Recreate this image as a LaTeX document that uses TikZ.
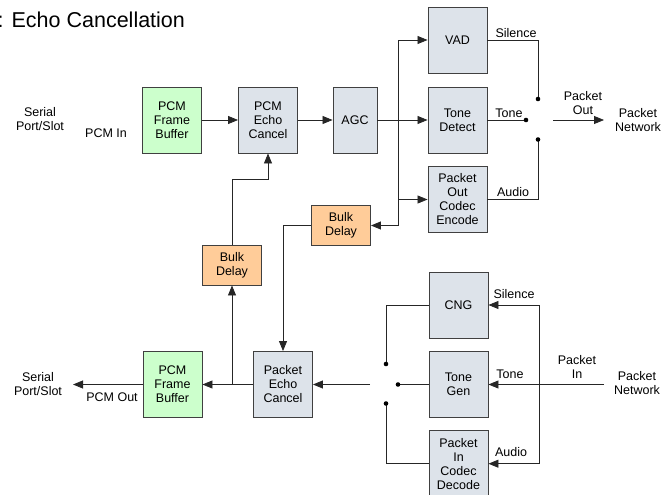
\documentclass[tikz,border=0pt]{standalone}
\usepackage{fontspec}
\setmainfont{Liberation Sans}
\usetikzlibrary{arrows.meta}

\definecolor{bufgreen}{HTML}{CCFFCC}
\definecolor{procgray}{HTML}{DDE3EA}
\definecolor{delayorange}{HTML}{FFCC99}
\definecolor{edgegray}{HTML}{404040}
\newcommand{\blklabel}{\fontsize{12.5}{14}\selectfont}

\tikzset{
  blk/.style={draw=edgegray, line width=0.9pt, minimum width=59pt, minimum height=66pt,
    align=center, inner sep=1pt, font=\blklabel},
  bufblk/.style={blk, fill=bufgreen},
  procblk/.style={blk, fill=procgray},
  delayblk/.style={blk, fill=delayorange, minimum height=40pt},
  txt/.style={align=center, inner sep=0pt, font=\blklabel},
  wire/.style={line width=0.8pt, black!85},
  arr/.style={wire, -{Triangle[length=10pt,width=8pt]}},
  swdot/.style={black, radius=2.3pt}
}

\begin{document}
\begin{tikzpicture}[x=1pt, y=-1pt]
\useasboundingbox (0,0) rectangle (669,495);

\node[anchor=base west, inner sep=0pt, font=\fontsize{21.5}{24}\selectfont] (title) at (-2.5,28) {: Echo Cancellation};

% transmit path
\node[bufblk] (pfbIn) at (172,120) {PCM\\Frame\\Buffer};
\node[procblk] (pcmEC) at (268,120) {PCM\\Echo\\Cancel};
\node[procblk, minimum width=44pt] (agc) at (355,120) {AGC};
\node[procblk] (vad) at (457.5,40) {VAD};
\node[procblk] (toneDet) at (457.5,120) {Tone\\Detect};
\node[procblk] (encode) at (457.5,199.5) {Packet\\Out\\Codec\\Encode};
\node[delayblk] (bulkR) at (341,225.5) {Bulk\\Delay};

% receive path
\node[delayblk] (bulkL) at (232,265) {Bulk\\Delay};
\node[bufblk] (pfbOut) at (172.5,384.5) {PCM\\Frame\\Buffer};
\node[procblk] (pktEC) at (283,384.5) {Packet\\Echo\\Cancel};
\node[procblk] (cng) at (458.5,305) {CNG};
\node[procblk] (toneGen) at (458.5,384.5) {Tone\\Gen};
\node[procblk] (decode) at (458.5,463.7) {Packet\\In\\Codec\\Decode};

% labels
\node[txt] (serIn) at (40,119) {Serial\\Port/Slot};
\node[txt] (pcmInLbl) at (106,133) {PCM In};
\node[txt] (serOut) at (38,384) {Serial\\Port/Slot};
\node[txt] (pcmOutLbl) at (112,397) {PCM Out};
\node[txt] (pktOutLbl) at (583,103) {Packet\\Out};
\node[txt] (netOut) at (638,120) {Packet\\Network};
\node[txt] (pktInLbl) at (577,367) {Packet\\In};
\node[txt] (netIn) at (637,383) {Packet\\Network};
\node[txt] (silT) at (516,33) {Silence};
\node[txt] (toneT) at (509,113) {Tone};
\node[txt] (audT) at (513,192) {Audio};
\node[txt] (silB) at (514,294) {Silence};
\node[txt] (toneB) at (510,374) {Tone};
\node[txt] (audB) at (511,452) {Audio};

% switch points and bends
\coordinate (swS) at (538,99);
\coordinate (swT) at (526,120);
\coordinate (swA) at (538,139.5);
\coordinate (outA) at (553,120);
\coordinate (outB) at (604,120);
\coordinate (busT) at (398,120);
\coordinate (ecTurn) at (232,179);
\coordinate (tap) at (232,384.5);
\coordinate (serEnd) at (73,384.5);
\coordinate (sw2S) at (386,364);
\coordinate (sw2T) at (398,384.5);
\coordinate (sw2A) at (386,403.5);
\coordinate (sw2Out) at (370,384.5);
\coordinate (inA) at (604,384.5);
\coordinate (busR) at (539,384.5);

\draw[arr] (pfbIn) -- (pcmEC);
\draw[arr] (pcmEC) -- (agc);
\draw[arr] (agc) -- (toneDet);
\draw[arr] (busT) |- (vad.west);
\draw[arr] (busT) |- (encode.west);
\draw[arr] (busT) |- (bulkR.east);
\draw[arr] (bulkR.west) -| (pktEC.north);
\draw[arr] (bulkL.north) -- (ecTurn) -| (pcmEC.south);

\draw[wire] (vad.east) -| (swS);
\draw[wire] (toneDet.east) -- (swT);
\draw[wire] (encode.east) -| (swA);
\draw[arr] (outA) -- (outB);

\draw[arr] (pktEC) -- (pfbOut);
\draw[arr] (tap) -- (bulkL.south);
\draw[arr] (pfbOut.west) -- (serEnd);

\draw[wire] (cng.west) -| (sw2S);
\draw[wire] (toneGen.west) -- (sw2T);
\draw[wire] (decode.west) -| (sw2A);
\draw[arr] (sw2Out) -- (pktEC.east);
\draw[arr] (inA) -- (toneGen.east);
\draw[arr] (busR) |- (cng.east);
\draw[arr] (busR) |- (decode.east);

\foreach \p in {swS,swT,swA,sw2S,sw2T,sw2A}
  \fill[swdot] (\p) circle;
\end{tikzpicture}
\end{document}
